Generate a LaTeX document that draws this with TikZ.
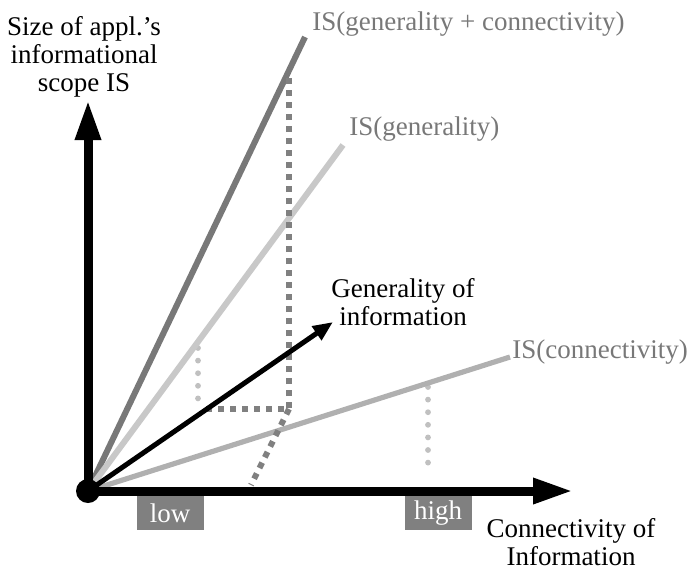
\documentclass[tikz,border=0pt]{standalone}
\usepackage{fontspec}
\setmainfont{Liberation Serif}
\usepackage{tikz}
\usetikzlibrary{arrows.meta,positioning}
\usepackage{xcolor}
\definecolor{combined}{RGB}{120,120,120}
\definecolor{general}{RGB}{200,200,200}
\definecolor{connect}{RGB}{176,176,176}
\definecolor{labelgray}{RGB}{120,120,120}
\definecolor{projdark}{RGB}{128,128,128}
\definecolor{projlight}{RGB}{192,192,192}
\definecolor{tagfill}{RGB}{128,128,128}

\begin{document}
\begin{tikzpicture}[x=0.5pt,y=-0.5pt,
  every node/.style={font=\fontsize{13.5}{14}\selectfont},
  axis/.style={line width=4.5pt,-{Triangle[length=20pt,width=12pt]}},
  scopeline/.style={line width=3pt,shorten <=6pt},
  darkdots/.style={projdark,line width=3pt,dash pattern=on 3pt off 3pt},
  lightdots/.style={projlight,line width=2.9pt,line cap=round,dash pattern=on 0pt off 6.3pt},
  tag/.style={fill=tagfill,text=white,minimum width=33.5pt,minimum height=17pt,inner sep=0pt},
  islabel/.style={text=labelgray,anchor=base west,inner sep=0pt},
  dot/.style={circle,fill=black,minimum size=12pt,inner sep=0pt}]
\useasboundingbox (0,0) rectangle (688,569);
\coordinate (o) at (88,491);
\coordinate (xtip) at (573,491);
\coordinate (ytip) at (88,100);
\coordinate (combEnd) at (305,37);
\coordinate (genEnd) at (343,145);
\coordinate (conEnd) at (510,357);
\coordinate (infoEnd) at (333,322);
% projections
\coordinate (lpA) at (198,348);
\coordinate (lpB) at (198,400);
\coordinate (dpTop) at (289,77);
\coordinate (dpCorner) at (289,409);
\coordinate (dpLeft) at (206,409);
\coordinate (dpFoot) at (251,485);
\coordinate (rpA) at (428,387);
\coordinate (rpB) at (428,473);
\draw[lightdots] (lpA) -- (lpB);
\draw[lightdots] (rpA) -- (rpB);
% IS lines
\draw[scopeline,combined] (o) -- (combEnd);
\draw[scopeline,general] (o) -- (genEnd);
\draw[scopeline,connect,line width=2.6pt] (o) -- (conEnd);
\draw[darkdots] (dpLeft) -- (dpCorner) -- (dpTop);
\draw[darkdots] (dpCorner) -- (dpFoot);
\draw[line width=2.5pt,-{Triangle[length=10pt,width=8pt]}] (o) -- (infoEnd);
% axes
\draw[axis] (o) -- (xtip);
\draw[axis] (o) -- (ytip);
\node[dot] (origin) at (o) {};
% labels
\node[align=center] (ylabel) at (84,56.5) {Size of appl.'s\\informational\\scope IS};
\node[align=center] (xlabel) at (571,542) {Connectivity of\\Information};
\node[align=center] (infolabel) at (403,302) {Generality of\\information};
\node[islabel] (combLabel) at (312,30) {IS(generality + connectivity)};
\node[islabel] (genLabel) at (349,135) {IS(generality)};
\node[islabel] (conLabel) at (512,358) {IS(connectivity)};
\node[tag] (low) at (170,513) {low};
\node[tag] (high) at (438,513) {high};
\end{tikzpicture}
\end{document}
